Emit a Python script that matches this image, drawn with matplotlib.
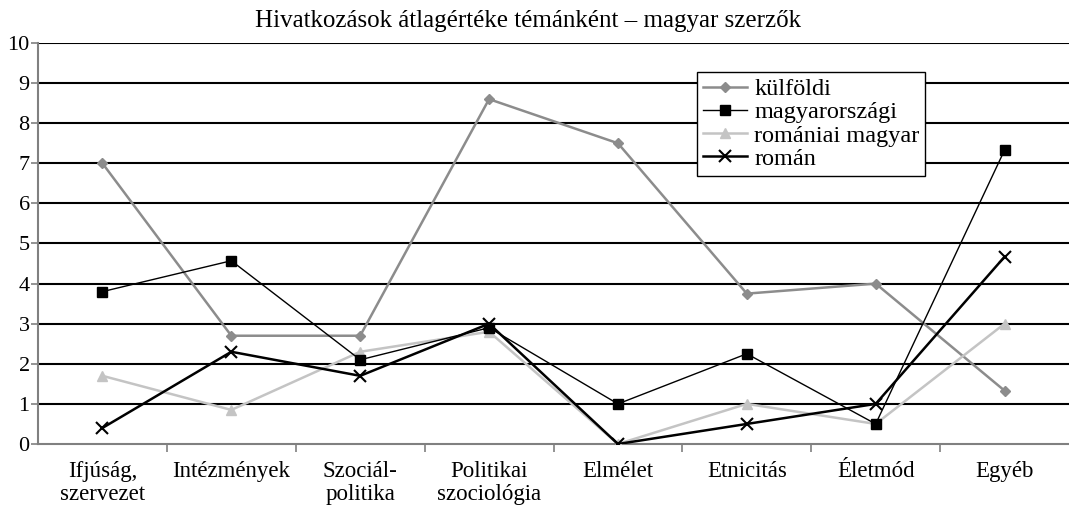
import numpy as np
import matplotlib.pyplot as plt

plt.rcParams['font.family'] = ['Liberation Serif', 'DejaVu Serif']

categories = ["Ifjúság,\nszervezet", "Intézmények", "Szociál-\npolitika", "Politikai\nszociológia",
              "Elmélet", "Etnicitás", "Életmód", "Egyéb"]
kulfoldi = [7.0, 2.7, 2.7, 8.6, 7.5, 3.75, 4.0, 1.33]
magyarorszagi = [3.8, 4.57, 2.1, 2.9, 1.0, 2.25, 0.5, 7.33]
romaniai_magyar = [1.7, 0.85, 2.3, 2.8, 0.0, 1.0, 0.5, 3.0]
roman = [0.4, 2.3, 1.7, 3.0, 0.0, 0.5, 1.0, 4.67]

W, H = 1069, 513
fig = plt.figure(figsize=(W / 100, H / 100), dpi=100)
ax = fig.add_axes([38 / W, 69 / H, 1 - 38 / W, 401 / H])

x = np.arange(len(categories))
ax.plot(x, kulfoldi, color='#8c8c8c', lw=1.8, marker='D', ms=5.5, label='külföldi', zorder=3)
ax.plot(x, magyarorszagi, color='black', lw=1.0, marker='s', ms=7.5, label='magyarországi', zorder=4)
ax.plot(x, romaniai_magyar, color='#c4c4c4', lw=1.8, marker='^', ms=7.5, label='romániai magyar', zorder=3)
ax.plot(x, roman, color='black', lw=1.8, marker='x', ms=8, mew=1.5, label='román', zorder=5)

ax.set_xlim(-0.5, 7.5)
ax.set_ylim(0, 10)
ax.set_yticks(range(0, 11))
ax.set_yticklabels([str(i) for i in range(0, 11)], fontsize=16)
for yv in range(1, 11):
    ax.axhline(yv, color='black', lw=1.5, zorder=1)

ax.set_xticks(np.arange(len(categories) - 1) + 0.5)
ax.set_xticklabels([])
ax.set_xticks(x, minor=True)
ax.set_xticklabels(categories, minor=True, fontsize=16.5, linespacing=1.15)
ax.tick_params(axis='x', which='minor', length=0, pad=12)
ax.tick_params(axis='x', which='major', length=6, width=1.2, color='#808080', direction='out')
ax.tick_params(axis='y', length=5, width=1.2, color='#808080', pad=1)

for s in ['top', 'right']:
    ax.spines[s].set_visible(False)
ax.spines['left'].set_color('#808080')
ax.spines['left'].set_linewidth(1.5)
ax.spines['bottom'].set_color('#808080')
ax.spines['bottom'].set_linewidth(1.5)

fig.text(528 / W, 1 - 27 / H, "Hivatkozások átlagértéke témánként – magyar szerzők",
         ha='center', va='baseline', fontsize=18)

leg = ax.legend(loc='upper left', bbox_to_anchor=((697 - 38) / (W - 38), (444 - 72) / 401),
                fontsize=17.5, frameon=True, fancybox=False, edgecolor='black',
                handlelength=1.8, handletextpad=0.3, labelspacing=0.05,
                borderpad=0.25, borderaxespad=0, framealpha=1)
leg.get_frame().set_linewidth(1.0)
leg.set_zorder(6)

fig.savefig("out.png", dpi=100)
